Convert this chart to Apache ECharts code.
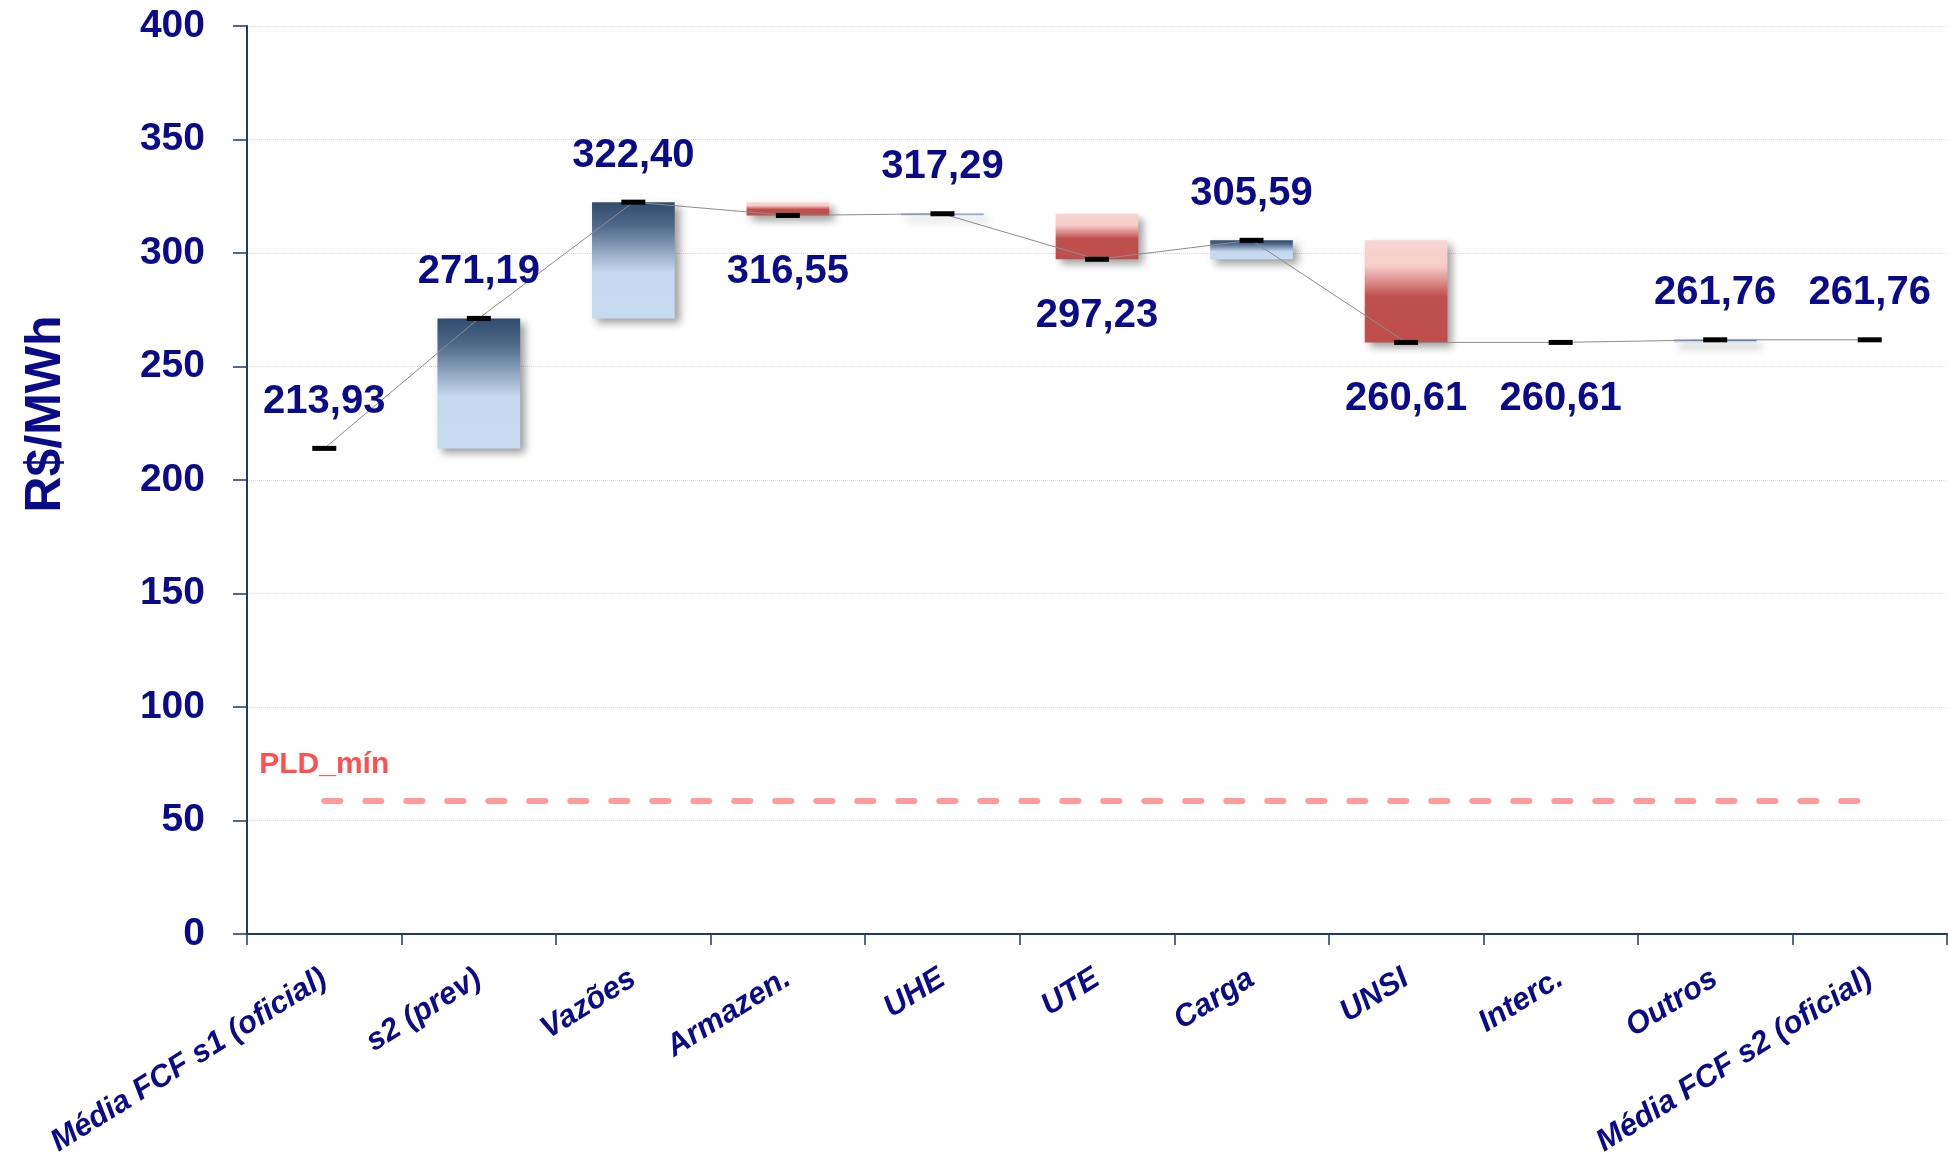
<!DOCTYPE html>
<html><head><meta charset="utf-8">
<script src="https://cdn.jsdelivr.net/npm/echarts@6/dist/echarts.min.js"></script>
<style>html,body{margin:0;padding:0;background:#fff}#c{width:1949px;height:1154px}</style>
</head><body><div id="c"></div>
<script>
// ---- data ----
const categories = ['Média FCF s1 (oficial)','s2 (prev)','Vazões','Armazen.','UHE','UTE','Carga','UNSI','Interc.','Outros','Média FCF s2 (oficial)'];
const levels = [213.93, 271.19, 322.40, 316.55, 317.29, 297.23, 305.59, 260.61, 260.61, 261.76, 261.76];
const isTotal = [true, false, false, false, false, false, false, false, false, false, true];
const pldMin = 58.60;
const pldLabel = 'PLD_mín';
const yAxisName = 'R$/MWh';
const yMin = 0, yMax = 400, yStep = 50;

// ---- derived ----
const NAVY = '#0A0A8A';
const FONT = '"Liberation Sans", Arial, sans-serif';
const upGrad = {type:'linear',x:0,y:0,x2:0,y2:1,colorStops:[
  {offset:0,color:'#2F4B6D'},{offset:0.2,color:'#4F6889'},{offset:0.6,color:'#C4D8EF'},{offset:1,color:'#C6DBF1'}]};
const downGrad = {type:'linear',x:0,y:0,x2:0,y2:1,colorStops:[
  {offset:0,color:'#F9D5D3'},{offset:0.25,color:'#F6CDCB'},{offset:0.55,color:'#C0504D'},{offset:1,color:'#BD4E4B'}]};
const shadow = {shadowColor:'rgba(0,0,0,0.38)',shadowBlur:8,shadowOffsetX:5,shadowOffsetY:5};

const baseData = [], deltaData = [], markerData = [];
levels.forEach((v,i)=>{
  let diff = i>0 ? v - levels[i-1] : 0;
  if (isTotal[i] || diff === 0) { baseData.push('-'); deltaData.push('-'); }
  else {
    baseData.push(Math.min(v, levels[i-1]));
    deltaData.push({value: Math.abs(diff), itemStyle: Object.assign({color: diff>0 ? upGrad : downGrad}, shadow)});
  }
  const above = isTotal[i] || diff > 0;
  markerData.push({value: v, label: {position: above ? 'top' : 'bottom', distance: above ? 24 : 34}});
});

const chart = echarts.init(document.getElementById('c'));
chart.setOption({
  animation:false,
  backgroundColor:'#fff',
  grid:{left:247,right:2,top:26,bottom:220,containLabel:false,outerBoundsMode:'none'},
  xAxis:{type:'category',data:categories,
    axisLine:{lineStyle:{color:'#1F3A6E',width:2}},
    axisTick:{show:true,length:11,lineStyle:{color:'#1F3A6E',width:1.5}},
    axisLabel:{interval:0,rotate:32,margin:42,color:NAVY,fontFamily:FONT,fontSize:31,fontWeight:'bold',fontStyle:'italic'}},
  yAxis:{type:'value',min:yMin,max:yMax,interval:yStep,
    name:yAxisName,nameLocation:'middle',nameGap:176,
    nameTextStyle:{color:NAVY,fontFamily:FONT,fontSize:50,fontWeight:'bold',padding:[0,0,0,132]},
    axisLine:{show:true,lineStyle:{color:'#1F3A6E',width:2}},
    axisTick:{show:true,length:14,lineStyle:{color:'#1F3A6E',width:1.5}},
    axisLabel:{margin:42,color:NAVY,fontFamily:FONT,fontSize:39,fontWeight:'bold'},
    splitLine:{show:true,lineStyle:{color:'#D9D9D9',type:'dotted',width:1}}},
  series:[
    {type:'bar',stack:'w',data:baseData,barWidth:'53.5%',itemStyle:{color:'transparent'},silent:true,z:2},
    {type:'bar',stack:'w',data:deltaData,barWidth:'53.5%',z:2},
    {type:'line',data:levels,symbol:'none',lineStyle:{color:'#8C8C8C',width:1},z:3,
     markLine:{silent:true,symbol:'none',label:{show:false},
       lineStyle:{color:'#FF9B9B',width:6,type:[16,25],cap:'round',opacity:1},
       data:[[{coord:[0,pldMin]},{coord:[categories.length-1,pldMin]}]]}},
    {type:'scatter',data:markerData,symbol:'rect',symbolSize:[24,5],itemStyle:{color:'#000',opacity:1},z:5,
     label:{show:true,color:NAVY,fontFamily:FONT,fontSize:40,fontWeight:'bold',
       formatter:p=>p.value.toFixed(2).replace('.',',')}},
    {type:'scatter',data:[[0,pldMin]],symbolSize:0,itemStyle:{opacity:1},z:5,
     label:{show:true,position:'top',distance:21,formatter:pldLabel,color:'#FF4F4F',fontFamily:FONT,fontSize:30,fontWeight:'bold'}}
  ]
});
</script></body></html>
